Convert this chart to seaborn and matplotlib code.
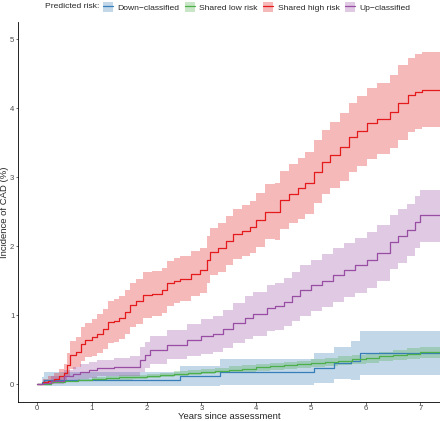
import numpy as np
import pandas as pd
import matplotlib
matplotlib.use("Agg")
import matplotlib.pyplot as plt
import seaborn as sns
from matplotlib.patches import Patch
from matplotlib.lines import Line2D

# cumulative incidence (%) step knots
groups = ["Down\u2212classified", "Shared low risk", "Shared high risk", "Up\u2212classified"]
colors = ["#377EB8", "#4DAF4A", "#E41A1C", "#984EA3"]
t_end = 7.36

down_t = [0, 0.08, 0.12, 2.6, 3.33, 5.05, 5.43, 5.73, 5.89]
down_v = [0, 0.03, 0.058, 0.115, 0.17, 0.235, 0.30, 0.34, 0.45]
down_lo = [0, -0.02, -0.025, -0.035, -0.02, 0.02, 0.07, 0.06, 0.13]
down_hi = [0, 0.10, 0.17, 0.265, 0.36, 0.45, 0.53, 0.62, 0.77]

low_t = [0, 0.25, 0.5, 0.75, 1.0, 1.25, 1.5, 1.75, 2.0, 2.25, 2.5, 2.75, 3.0, 3.25, 3.5,
         3.75, 4.0, 4.25, 4.5, 4.75, 5.0, 5.25, 5.5, 5.75, 6.0, 6.25, 6.5, 6.75, 7.0]
low_v = [0, 0.03, 0.045, 0.06, 0.07, 0.085, 0.095, 0.105, 0.12, 0.13, 0.15, 0.165, 0.18, 0.195, 0.21,
         0.225, 0.24, 0.255, 0.27, 0.285, 0.30, 0.32, 0.34, 0.36, 0.38, 0.40, 0.42, 0.44, 0.46]
low_lo = [0, 0.015, 0.025, 0.04, 0.045, 0.06, 0.065, 0.075, 0.09, 0.095, 0.115, 0.125, 0.14, 0.155, 0.165,
          0.18, 0.19, 0.205, 0.215, 0.23, 0.24, 0.26, 0.275, 0.295, 0.31, 0.33, 0.345, 0.36, 0.38]
low_hi = [0, 0.045, 0.065, 0.08, 0.095, 0.11, 0.125, 0.135, 0.15, 0.165, 0.185, 0.205, 0.22, 0.235, 0.255,
          0.27, 0.29, 0.305, 0.325, 0.34, 0.36, 0.38, 0.405, 0.425, 0.45, 0.47, 0.495, 0.52, 0.54]

high_t = [0, 0.10, 0.20, 0.30, 0.40, 0.48, 0.55, 0.60, 0.70, 0.80, 0.87, 1.00, 1.10, 1.20, 1.30,
          1.40, 1.50, 1.60, 1.70, 1.80, 1.93, 2.10, 2.27, 2.37, 2.50, 2.60, 2.80, 2.97, 3.10, 3.16,
          3.30, 3.45, 3.58, 3.75, 3.89, 4.00, 4.16, 4.35, 4.44, 4.60, 4.77, 4.90, 5.05, 5.20, 5.35,
          5.53, 5.70, 5.85, 6.02, 6.20, 6.45, 6.60, 6.78, 6.90, 7.03]
high_v = [0, 0.03, 0.05, 0.08, 0.12, 0.16, 0.28, 0.42, 0.46, 0.58, 0.64, 0.68, 0.73, 0.80, 0.90,
          0.92, 0.96, 1.05, 1.14, 1.20, 1.29, 1.31, 1.36, 1.46, 1.50, 1.53, 1.60, 1.65, 1.80, 1.92,
          1.98, 2.08, 2.18, 2.22, 2.28, 2.38, 2.50, 2.50, 2.67, 2.76, 2.84, 2.92, 3.08, 3.22, 3.32,
          3.44, 3.58, 3.67, 3.78, 3.85, 3.95, 4.08, 4.19, 4.24, 4.27]
high_lo = [0, 0.00, 0.00, 0.01, 0.02, 0.04, 0.11, 0.22, 0.24, 0.34, 0.39, 0.41, 0.45, 0.51, 0.60,
           0.61, 0.65, 0.73, 0.82, 0.87, 0.96, 0.98, 1.03, 1.13, 1.17, 1.20, 1.27, 1.32, 1.46, 1.58,
           1.63, 1.72, 1.82, 1.85, 1.90, 1.99, 2.10, 2.09, 2.25, 2.33, 2.40, 2.47, 2.62, 2.75, 2.84,
           2.95, 3.08, 3.16, 3.26, 3.33, 3.42, 3.54, 3.65, 3.70, 3.73]
high_hi = [0, 0.07, 0.11, 0.16, 0.22, 0.29, 0.45, 0.62, 0.68, 0.82, 0.89, 0.95, 1.01, 1.09, 1.20,
           1.23, 1.27, 1.37, 1.46, 1.53, 1.62, 1.64, 1.69, 1.79, 1.83, 1.86, 1.93, 1.98, 2.14, 2.26,
           2.33, 2.44, 2.54, 2.59, 2.66, 2.77, 2.90, 2.91, 3.09, 3.19, 3.28, 3.37, 3.54, 3.69, 3.80,
           3.93, 4.08, 4.18, 4.30, 4.37, 4.48, 4.62, 4.73, 4.79, 4.82]

up_t = [0, 0.10, 0.25, 0.48, 0.65, 0.78, 0.95, 1.09, 1.40, 1.69, 1.88, 1.96, 2.06, 2.37, 2.73,
        3.00, 3.22, 3.40, 3.58, 3.80, 3.95, 4.19, 4.35, 4.50, 4.65, 4.80, 5.00, 5.20, 5.41, 5.60,
        5.80, 6.02, 6.20, 6.45, 6.60, 6.75, 6.90, 7.00]
up_v = [0, 0.02, 0.05, 0.11, 0.15, 0.18, 0.20, 0.23, 0.24, 0.25, 0.35, 0.42, 0.49, 0.57, 0.64,
        0.69, 0.73, 0.80, 0.88, 0.96, 1.02, 1.10, 1.13, 1.19, 1.27, 1.36, 1.43, 1.50, 1.58, 1.65,
        1.72, 1.80, 1.90, 2.06, 2.15, 2.23, 2.35, 2.45]
up_lo = [0, 0.00, 0.00, 0.03, 0.06, 0.08, 0.09, 0.11, 0.11, 0.11, 0.17, 0.23, 0.29, 0.36, 0.41,
         0.44, 0.47, 0.52, 0.59, 0.65, 0.70, 0.77, 0.79, 0.84, 0.91, 0.99, 1.06, 1.12, 1.19, 1.26,
         1.32, 1.40, 1.50, 1.67, 1.76, 1.85, 1.97, 2.06]
up_hi = [0, 0.06, 0.11, 0.20, 0.25, 0.29, 0.32, 0.35, 0.38, 0.41, 0.53, 0.61, 0.69, 0.78, 0.87,
         0.94, 0.99, 1.08, 1.17, 1.27, 1.34, 1.43, 1.47, 1.54, 1.63, 1.73, 1.80, 1.88, 1.97, 2.04,
         2.12, 2.20, 2.30, 2.45, 2.54, 2.61, 2.73, 2.82]

series = [
    (down_t, down_v, down_lo, down_hi),
    (low_t, low_v, low_lo, low_hi),
    (high_t, high_v, high_lo, high_hi),
    (up_t, up_v, up_lo, up_hi),
]

frames = []
for name, (t, v, lo, hi) in zip(groups, series):
    # carry the last value to the end of follow-up
    frames.append(pd.DataFrame({
        "years": list(t) + [t_end],
        "inc": list(v) + [v[-1]],
        "lo": list(lo) + [lo[-1]],
        "hi": list(hi) + [hi[-1]],
        "group": name,
    }))
df = pd.concat(frames, ignore_index=True)
palette = dict(zip(groups, colors))

sns.set_theme(style="ticks")
plt.rcParams["font.family"] = ["Liberation Sans", "DejaVu Sans"]

fig = plt.figure(figsize=(4.4, 4.21), dpi=100)
ax = fig.add_axes([18 / 440, 1 - 401.7 / 421, 1 - 18 / 440, (401.7 - 22) / 421])

for name, g in df.groupby("group", sort=False):
    ax.fill_between(g["years"], g["lo"], g["hi"], step="post",
                    color=palette[name], alpha=0.3, linewidth=0, zorder=1)
sns.lineplot(data=df, x="years", y="inc", hue="group", palette=palette,
             drawstyle="steps-post", estimator=None, linewidth=0.9,
             legend=False, ax=ax, zorder=2)

ax.set_xlim(-0.353, t_end)
ax.set_ylim(-0.256, 5.25)
ax.set_xticks(range(0, 8))
ax.set_yticks(range(0, 6))
ax.set_xlabel("")
ax.set_ylabel("")
fig.text(229 / 440, 1 - 416.5 / 421, "Years since assessment", fontsize=6.8,
         ha="center", va="center")
fig.text(5 / 440, 1 - 212 / 421, "Incidence of CAD (%)", fontsize=6.8,
         ha="center", va="center", rotation=90)
ax.tick_params(axis="both", labelsize=5.6, labelcolor="#4D4D4D", length=1.8,
               width=0.5, color="#333333", pad=0.9)
for side in ["top", "right"]:
    ax.spines[side].set_visible(False)
for side in ["left", "bottom"]:
    ax.spines[side].set_linewidth(0.6)
    ax.spines[side].set_color("black")

handles = [(Patch(facecolor=c, alpha=0.3, edgecolor="none"),
            Line2D([], [], color=c, linewidth=0.9)) for c in colors]
fig.text(45 / 440, 1 - 7 / 421, "Predicted risk:", fontsize=6.1, va="center", ha="left")
fig.legend(handles, groups, ncol=4, loc="center left", bbox_to_anchor=(103 / 440, 1 - 7 / 421),
           frameon=False, fontsize=6.1, handlelength=1.2, handleheight=1.3,
           handletextpad=0.5, columnspacing=0.65, borderaxespad=0, borderpad=0)

fig.savefig("out.png", dpi=100)
